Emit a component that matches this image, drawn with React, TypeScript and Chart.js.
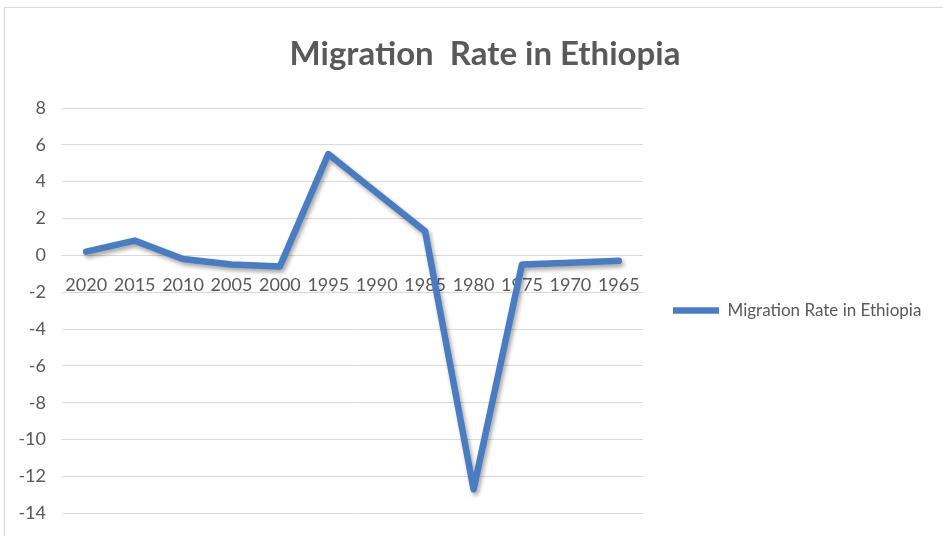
import React, { useEffect, useRef } from "react";
import { Chart, registerables } from "chart.js";

Chart.register(...registerables);

const categories: string[] = ["2020", "2015", "2010", "2005", "2000", "1995", "1990", "1985", "1980", "1975", "1970", "1965"];
const migrationRate: number[] = [0.2, 0.8, -0.2, -0.5, -0.6, 5.5, 3.4, 1.3, -12.7, -0.5, -0.4, -0.3];
const yTicks: number[] = [8, 6, 4, 2, 0, -2, -4, -6, -8, -10, -12, -14];
const seriesName = "Migration Rate in Ethiopia";
const chartTitle = "Migration  Rate in Ethiopia";

const FONT = "Lato, 'Open Sans', sans-serif";
const TEXT = "#595959";
const BLUE = "#4a7cc1";

const CANVAS_W = 955;
const CANVAS_H = 540;

const shadowPlugin = {
  id: "lineShadow",
  beforeDatasetsDraw(chart: any) {
    const ctx = chart.ctx;
    ctx.save();
    ctx.shadowColor = "rgba(0,0,0,0.35)";
    ctx.shadowBlur = 4;
    ctx.shadowOffsetX = 2;
    ctx.shadowOffsetY = 3;
  },
  afterDatasetsDraw(chart: any) {
    chart.ctx.restore();
  },
};

export default function App() {
  const ref = useRef<HTMLCanvasElement | null>(null);

  useEffect(() => {
    if (!ref.current) return;
    const chart = new Chart(ref.current, {
      type: "line",
      data: {
        labels: categories,
        datasets: [
          {
            label: seriesName,
            data: migrationRate,
            borderColor: BLUE,
            backgroundColor: BLUE,
            borderWidth: 6.5,
            pointRadius: 0,
            pointHoverRadius: 0,
            tension: 0,
            borderJoinStyle: "round",
            borderCapStyle: "round",
            yAxisID: "y",
          },
        ],
      },
      plugins: [shadowPlugin],
      options: {
        animation: false,
        responsive: false,
        maintainAspectRatio: false,
        layout: { padding: { left: 15, right: 0, top: 0, bottom: 0 } },
        plugins: {
          title: {
            display: true,
            text: chartTitle,
            color: TEXT,
            font: { family: FONT, size: 33, weight: "bold" },
            padding: { top: 35, bottom: 33.4 },
          },
          legend: {
            display: true,
            position: "right",
            align: "center",
            fullSize: false,
            maxWidth: 285,
            labels: {
              usePointStyle: true,
              pointStyle: "line",
              pointStyleWidth: 46,
              color: TEXT,
              font: { family: FONT, size: 17 },
              padding: 30,
            },
          },
          tooltip: { enabled: false },
        },
        scales: {
          x: {
            type: "category",
            position: { y: 0 } as any,
            offset: true,
            grid: { display: false, drawTicks: false },
            border: { display: false },
            ticks: {
              color: TEXT,
              font: { family: FONT, size: 18 },
              padding: 19,
              maxRotation: 0,
              autoSkip: false,
            },
          },
          y: {
            position: "left",
            min: -14,
            max: 8,
            afterBuildTicks: (scale: any) => {
              scale.ticks = yTicks.map((v) => ({ value: v }));
            },
            afterFit: (scale: any) => {
              scale.width = 47;
            },
            grid: { color: "#d9d9d9", lineWidth: 1, drawTicks: false },
            border: { display: false },
            ticks: {
              color: TEXT,
              font: { family: FONT, size: 18 },
              padding: 16,
            },
          },
          rightSpace: {
            type: "linear",
            position: "right",
            weight: 2000,
            grid: { display: false, drawTicks: false },
            border: { display: false },
            ticks: { display: false },
            afterFit: (scale: any) => {
              scale.width = 27;
            },
          },
        },
      },
    });
    return () => chart.destroy();
  }, []);

  return (
    <div
      style={{
        position: "absolute",
        left: 0,
        top: 0,
        width: 943,
        height: 536,
        overflow: "hidden",
        background: "#ffffff",
      }}
    >
      <div
        style={{
          position: "absolute",
          left: 4,
          top: 7,
          width: 980,
          height: 560,
          border: "1px solid #d9d9d9",
        }}
      />
      <canvas
        ref={ref}
        width={CANVAS_W}
        height={CANVAS_H}
        style={{ position: "absolute", left: 0, top: 0, width: CANVAS_W, height: CANVAS_H }}
      />
    </div>
  );
}
